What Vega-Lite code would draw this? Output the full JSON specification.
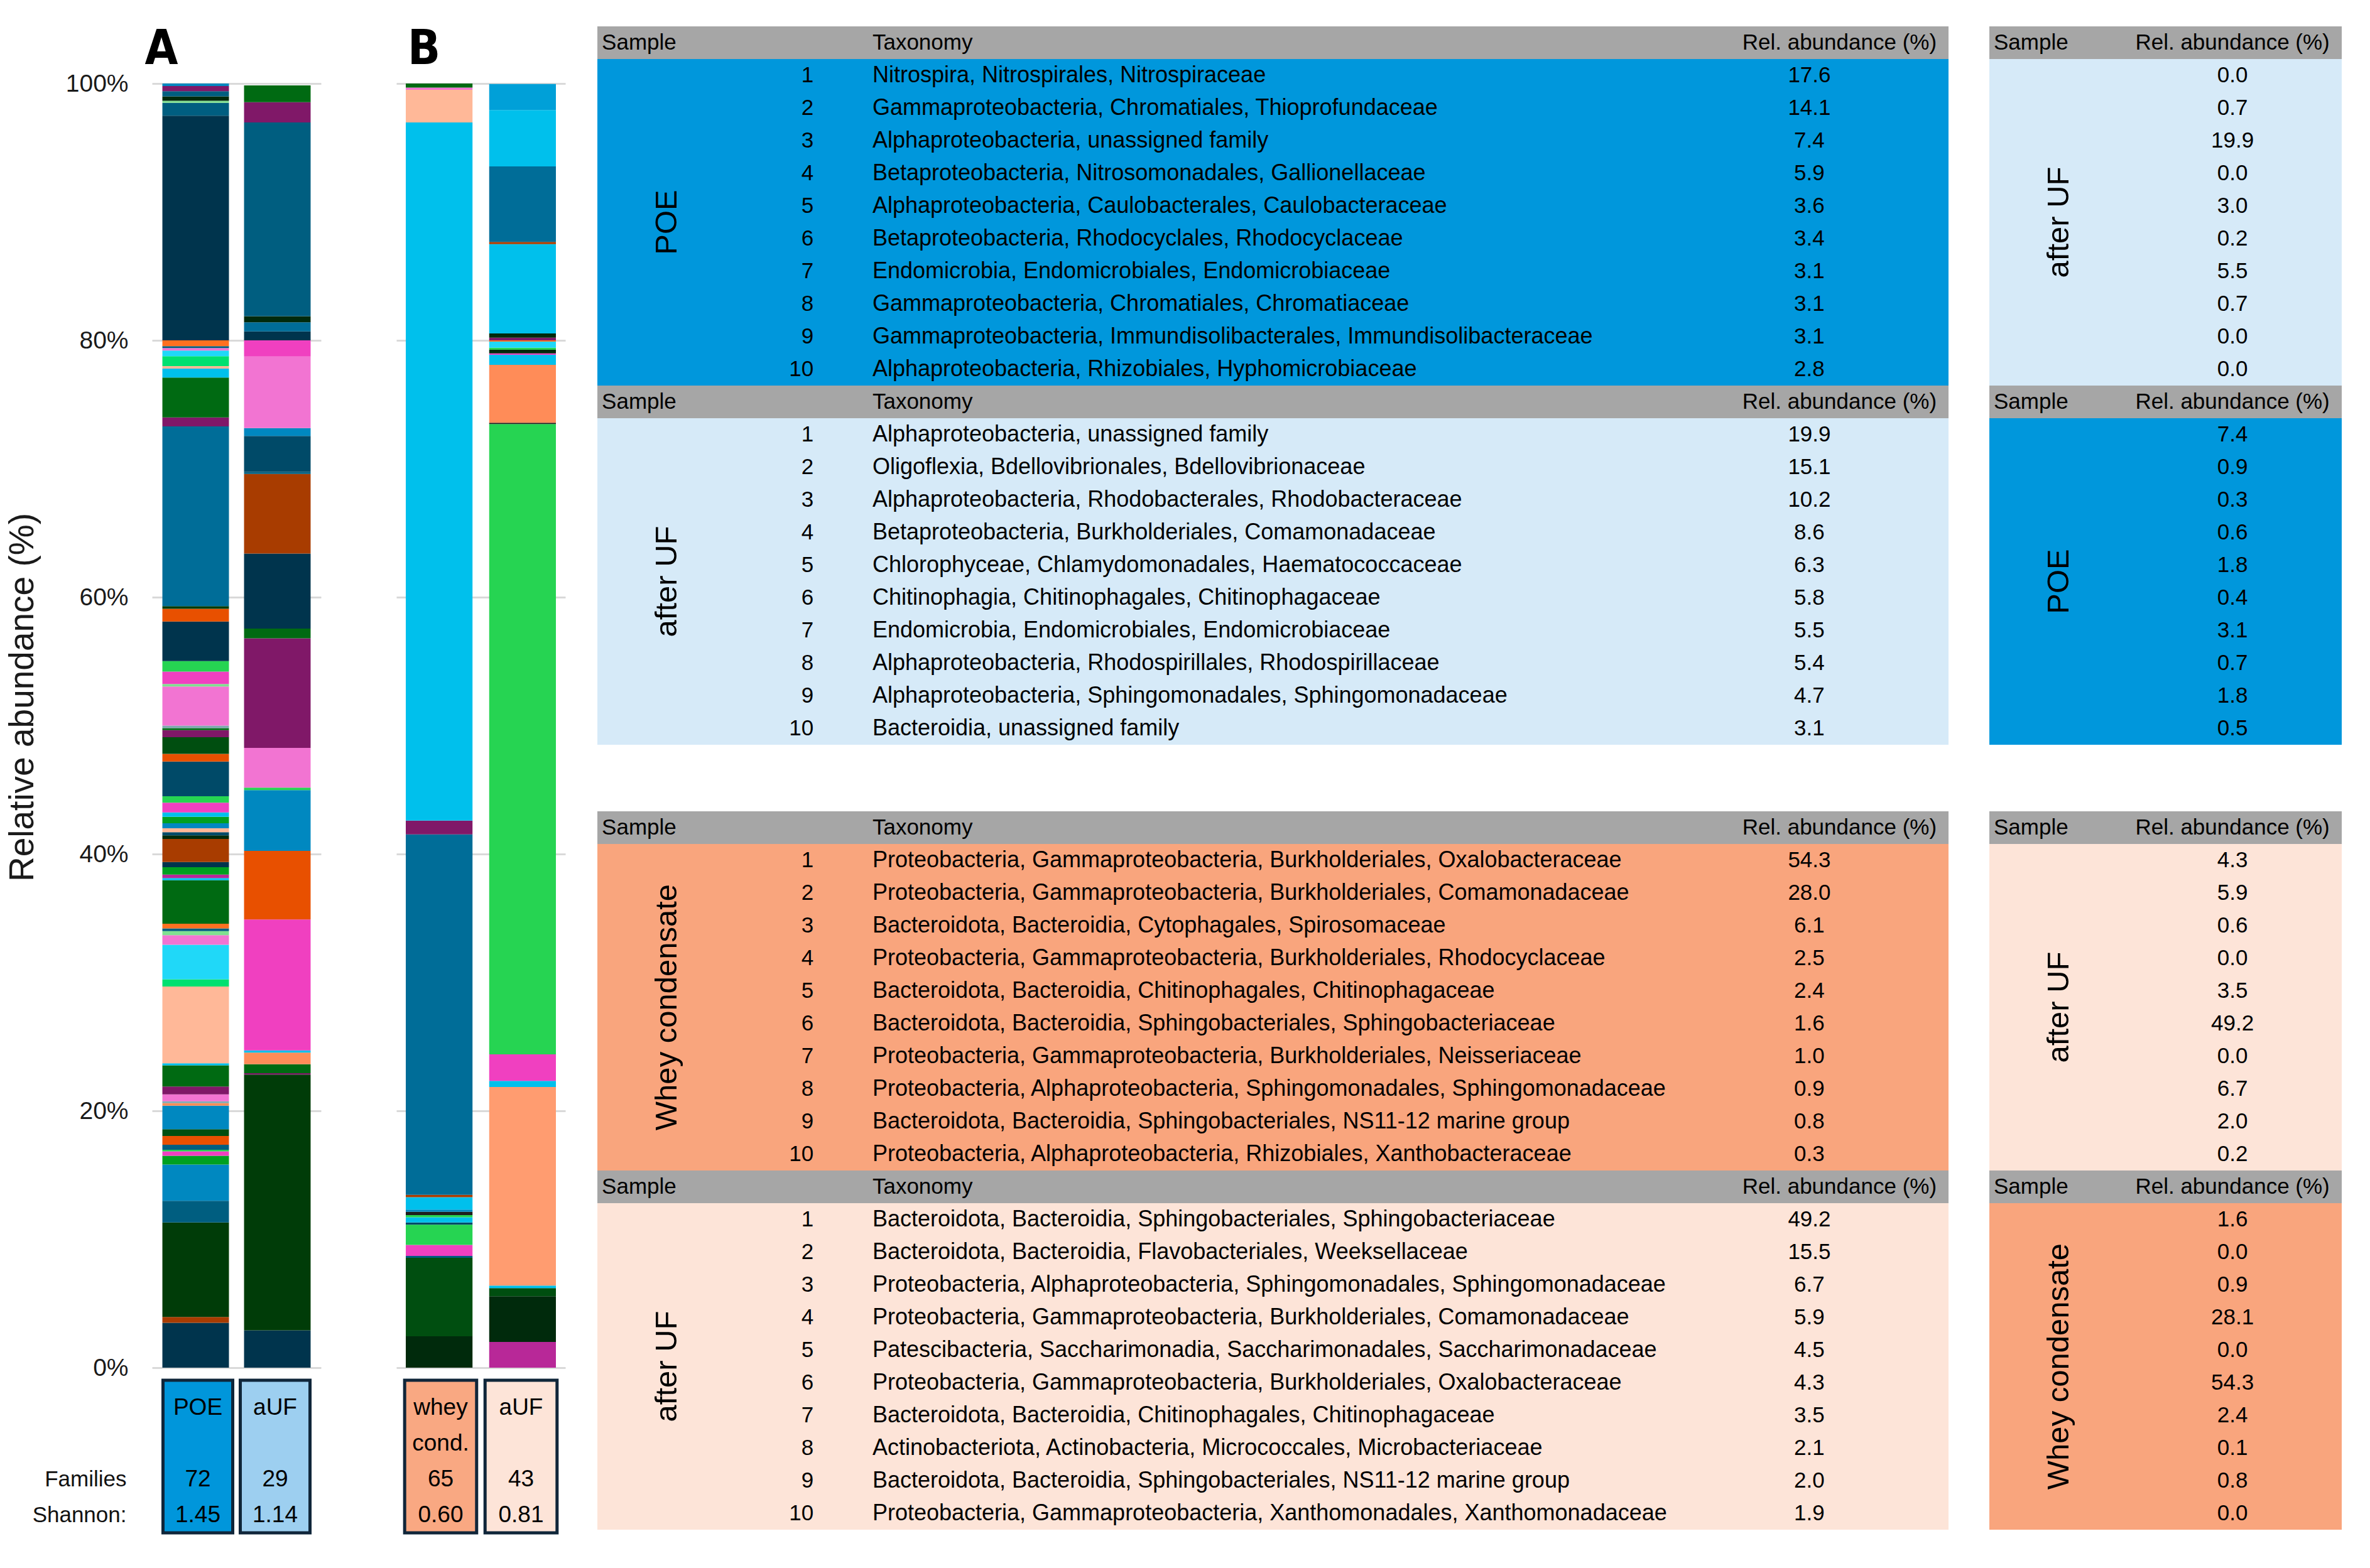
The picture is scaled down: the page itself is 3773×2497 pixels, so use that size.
{
"$schema": "https://vega.github.io/schema/vega-lite/v6.json",
"background": "white",
"padding": {"left": 8, "top": 41, "right": 5, "bottom": 5},
"config": {"font": "Liberation Sans", "view": {"stroke": null}, "axisX": {"disable": true}},
"datasets": {
"segs": [
{"panel":"A","sample":"POE","ord":1,"grp":"g01","pct":3.5},
{"panel":"A","sample":"POE","ord":2,"grp":"g02","pct":0.45},
{"panel":"A","sample":"POE","ord":3,"grp":"g03","pct":7.36},
{"panel":"A","sample":"POE","ord":4,"grp":"g07","pct":1.68},
{"panel":"A","sample":"POE","ord":5,"grp":"g09","pct":2.83},
{"panel":"A","sample":"POE","ord":6,"grp":"g11","pct":0.68},
{"panel":"A","sample":"POE","ord":7,"grp":"g15","pct":0.35},
{"panel":"A","sample":"POE","ord":8,"grp":"g12","pct":0.12},
{"panel":"A","sample":"POE","ord":9,"grp":"g07","pct":0.39},
{"panel":"A","sample":"POE","ord":10,"grp":"g18","pct":0.69},
{"panel":"A","sample":"POE","ord":11,"grp":"g05","pct":0.52},
{"panel":"A","sample":"POE","ord":12,"grp":"g09","pct":1.83},
{"panel":"A","sample":"POE","ord":13,"grp":"g28","pct":0.2},
{"panel":"A","sample":"POE","ord":14,"grp":"g27","pct":0.14},
{"panel":"A","sample":"POE","ord":15,"grp":"g16","pct":0.54},
{"panel":"A","sample":"POE","ord":16,"grp":"g17","pct":0.62},
{"panel":"A","sample":"POE","ord":17,"grp":"g04","pct":1.64},
{"panel":"A","sample":"POE","ord":18,"grp":"g22","pct":0.17},
{"panel":"A","sample":"POE","ord":19,"grp":"g21","pct":5.97},
{"panel":"A","sample":"POE","ord":20,"grp":"g13","pct":0.57},
{"panel":"A","sample":"POE","ord":21,"grp":"g23","pct":2.69},
{"panel":"A","sample":"POE","ord":22,"grp":"g16","pct":0.74},
{"panel":"A","sample":"POE","ord":23,"grp":"g14","pct":0.32},
{"panel":"A","sample":"POE","ord":24,"grp":"g07","pct":0.2},
{"panel":"A","sample":"POE","ord":25,"grp":"g19","pct":0.37},
{"panel":"A","sample":"POE","ord":26,"grp":"g04","pct":3.39},
{"panel":"A","sample":"POE","ord":27,"grp":"g22","pct":0.17},
{"panel":"A","sample":"POE","ord":28,"grp":"g25","pct":0.27},
{"panel":"A","sample":"POE","ord":29,"grp":"g11","pct":0.57},
{"panel":"A","sample":"POE","ord":30,"grp":"g01","pct":0.41},
{"panel":"A","sample":"POE","ord":31,"grp":"g02","pct":1.79},
{"panel":"A","sample":"POE","ord":32,"grp":"g06","pct":0.28},
{"panel":"A","sample":"POE","ord":33,"grp":"g24","pct":0.25},
{"panel":"A","sample":"POE","ord":34,"grp":"g21","pct":0.3},
{"panel":"A","sample":"POE","ord":35,"grp":"g09","pct":0.4},
{"panel":"A","sample":"POE","ord":36,"grp":"g11","pct":0.5},
{"panel":"A","sample":"POE","ord":37,"grp":"g22","pct":0.34},
{"panel":"A","sample":"POE","ord":38,"grp":"g15","pct":0.76},
{"panel":"A","sample":"POE","ord":39,"grp":"g12","pct":0.5},
{"panel":"A","sample":"POE","ord":40,"grp":"g24","pct":2.7},
{"panel":"A","sample":"POE","ord":41,"grp":"g18","pct":0.6},
{"panel":"A","sample":"POE","ord":42,"grp":"g05","pct":1.3},
{"panel":"A","sample":"POE","ord":43,"grp":"g17","pct":0.55},
{"panel":"A","sample":"POE","ord":44,"grp":"g04","pct":0.15},
{"panel":"A","sample":"POE","ord":45,"grp":"g27","pct":0.2},
{"panel":"A","sample":"POE","ord":46,"grp":"g16","pct":3.04},
{"panel":"A","sample":"POE","ord":47,"grp":"g14","pct":0.2},
{"panel":"A","sample":"POE","ord":48,"grp":"g15","pct":0.96},
{"panel":"A","sample":"POE","ord":49,"grp":"g12","pct":0.83},
{"panel":"A","sample":"POE","ord":50,"grp":"g01","pct":3.07},
{"panel":"A","sample":"POE","ord":51,"grp":"g18","pct":1.0},
{"panel":"A","sample":"POE","ord":52,"grp":"g03","pct":0.2},
{"panel":"A","sample":"POE","ord":53,"grp":"g08","pct":14.0},
{"panel":"A","sample":"POE","ord":54,"grp":"g17","pct":0.7},
{"panel":"A","sample":"POE","ord":55,"grp":"g04","pct":3.1},
{"panel":"A","sample":"POE","ord":56,"grp":"g22","pct":0.7},
{"panel":"A","sample":"POE","ord":57,"grp":"g21","pct":0.2},
{"panel":"A","sample":"POE","ord":58,"grp":"g13","pct":0.76},
{"panel":"A","sample":"POE","ord":59,"grp":"g23","pct":0.44},
{"panel":"A","sample":"POE","ord":60,"grp":"g16","pct":0.2},
{"panel":"A","sample":"POE","ord":61,"grp":"g07","pct":0.15},
{"panel":"A","sample":"POE","ord":62,"grp":"g19","pct":0.45},
{"panel":"A","sample":"POE","ord":63,"grp":"g01","pct":17.5},
{"panel":"A","sample":"POE","ord":64,"grp":"g07","pct":1.0},
{"panel":"A","sample":"POE","ord":65,"grp":"g14","pct":0.16},
{"panel":"A","sample":"POE","ord":66,"grp":"g06","pct":0.34},
{"panel":"A","sample":"POE","ord":67,"grp":"g07","pct":0.4},
{"panel":"A","sample":"POE","ord":68,"grp":"g17","pct":0.4},
{"panel":"A","sample":"POE","ord":69,"grp":"g09","pct":0.2},
{"panel":"A","sample":"aUF","ord":1,"grp":"g01","pct":2.91},
{"panel":"A","sample":"aUF","ord":2,"grp":"g03","pct":19.91},
{"panel":"A","sample":"aUF","ord":3,"grp":"g17","pct":0.12},
{"panel":"A","sample":"aUF","ord":4,"grp":"g04","pct":0.69},
{"panel":"A","sample":"aUF","ord":5,"grp":"g28","pct":0.9},
{"panel":"A","sample":"aUF","ord":6,"grp":"g22","pct":0.18},
{"panel":"A","sample":"aUF","ord":7,"grp":"g15","pct":10.19},
{"panel":"A","sample":"aUF","ord":8,"grp":"g18","pct":5.34},
{"panel":"A","sample":"aUF","ord":9,"grp":"g09","pct":4.73},
{"panel":"A","sample":"aUF","ord":10,"grp":"g12","pct":0.2},
{"panel":"A","sample":"aUF","ord":11,"grp":"g16","pct":3.09},
{"panel":"A","sample":"aUF","ord":12,"grp":"g17","pct":8.54},
{"panel":"A","sample":"aUF","ord":13,"grp":"g04","pct":0.75},
{"panel":"A","sample":"aUF","ord":14,"grp":"g01","pct":5.85},
{"panel":"A","sample":"aUF","ord":15,"grp":"g02","pct":6.2},
{"panel":"A","sample":"aUF","ord":16,"grp":"g07","pct":0.15},
{"panel":"A","sample":"aUF","ord":17,"grp":"g24","pct":2.8},
{"panel":"A","sample":"aUF","ord":18,"grp":"g09","pct":0.62},
{"panel":"A","sample":"aUF","ord":19,"grp":"g16","pct":5.57},
{"panel":"A","sample":"aUF","ord":20,"grp":"g15","pct":1.26},
{"panel":"A","sample":"aUF","ord":21,"grp":"g01","pct":0.7},
{"panel":"A","sample":"aUF","ord":22,"grp":"g08","pct":0.7},
{"panel":"A","sample":"aUF","ord":23,"grp":"g06","pct":0.48},
{"panel":"A","sample":"aUF","ord":24,"grp":"g07","pct":15.09},
{"panel":"A","sample":"aUF","ord":25,"grp":"g17","pct":1.58},
{"panel":"A","sample":"aUF","ord":26,"grp":"g04","pct":1.3},
{"panel":"B","sample":"whey cond.","ord":1,"grp":"g06","pct":2.44},
{"panel":"B","sample":"whey cond.","ord":2,"grp":"g05","pct":6.12},
{"panel":"B","sample":"whey cond.","ord":3,"grp":"g07","pct":0.14},
{"panel":"B","sample":"whey cond.","ord":4,"grp":"g15","pct":0.86},
{"panel":"B","sample":"whey cond.","ord":5,"grp":"g12","pct":1.58},
{"panel":"B","sample":"whey cond.","ord":6,"grp":"g24","pct":0.17},
{"panel":"B","sample":"whey cond.","ord":7,"grp":"g22","pct":0.4},
{"panel":"B","sample":"whey cond.","ord":8,"grp":"g12","pct":0.17},
{"panel":"B","sample":"whey cond.","ord":9,"grp":"g26","pct":0.26},
{"panel":"B","sample":"whey cond.","ord":10,"grp":"g09","pct":0.17},
{"panel":"B","sample":"whey cond.","ord":11,"grp":"g22","pct":0.97},
{"panel":"B","sample":"whey cond.","ord":12,"grp":"g02","pct":0.18},
{"panel":"B","sample":"whey cond.","ord":13,"grp":"g08","pct":28.07},
{"panel":"B","sample":"whey cond.","ord":14,"grp":"g17","pct":1.07},
{"panel":"B","sample":"whey cond.","ord":15,"grp":"g22","pct":54.37},
{"panel":"B","sample":"whey cond.","ord":16,"grp":"g21","pct":2.54},
{"panel":"B","sample":"whey cond.","ord":17,"grp":"g16","pct":0.17},
{"panel":"B","sample":"whey cond.","ord":18,"grp":"g04","pct":0.32},
{"panel":"B","sample":"aUF","ord":1,"grp":"g25","pct":2.0},
{"panel":"B","sample":"aUF","ord":2,"grp":"g06","pct":3.56},
{"panel":"B","sample":"aUF","ord":3,"grp":"g05","pct":0.64},
{"panel":"B","sample":"aUF","ord":4,"grp":"g22","pct":0.19},
{"panel":"B","sample":"aUF","ord":5,"grp":"g20","pct":15.47},
{"panel":"B","sample":"aUF","ord":6,"grp":"g22","pct":0.48},
{"panel":"B","sample":"aUF","ord":7,"grp":"g15","pct":2.06},
{"panel":"B","sample":"aUF","ord":8,"grp":"g12","pct":49.08},
{"panel":"B","sample":"aUF","ord":9,"grp":"g26","pct":0.1},
{"panel":"B","sample":"aUF","ord":10,"grp":"g28","pct":4.51},
{"panel":"B","sample":"aUF","ord":11,"grp":"g22","pct":0.78},
{"panel":"B","sample":"aUF","ord":12,"grp":"g15","pct":0.12},
{"panel":"B","sample":"aUF","ord":13,"grp":"g06","pct":0.28},
{"panel":"B","sample":"aUF","ord":14,"grp":"g12","pct":0.16},
{"panel":"B","sample":"aUF","ord":15,"grp":"g23","pct":0.47},
{"panel":"B","sample":"aUF","ord":16,"grp":"g19","pct":0.1},
{"panel":"B","sample":"aUF","ord":17,"grp":"g17","pct":0.21},
{"panel":"B","sample":"aUF","ord":18,"grp":"g06","pct":0.33},
{"panel":"B","sample":"aUF","ord":19,"grp":"g22","pct":6.96},
{"panel":"B","sample":"aUF","ord":20,"grp":"g02","pct":0.16},
{"panel":"B","sample":"aUF","ord":21,"grp":"g08","pct":5.88},
{"panel":"B","sample":"aUF","ord":22,"grp":"g22","pct":4.39},
{"panel":"B","sample":"aUF","ord":23,"grp":"g10","pct":2.03}
],
"boxes": [
{"panel":"A","sample":"POE","key":"POE","l1":"POE","l2":"","fam":"72","sha":"1.45"},
{"panel":"A","sample":"aUF","key":"UF1","l1":"aUF","l2":"","fam":"29","sha":"1.14"},
{"panel":"B","sample":"whey cond.","key":"WC","l1":"whey","l2":"cond.","fam":"65","sha":"0.60"},
{"panel":"B","sample":"aUF","key":"UF2","l1":"aUF","l2":"","fam":"43","sha":"0.81"}
],
"panels": [{"panel":"A"},{"panel":"B"}],
"hdrMain": [{"c1":"Sample","c2":"Taxonomy","c3":"Rel. abundance (%)"}],
"hdrSide": [{"c1":"Sample","c3":"Rel. abundance (%)"}],
"tab": [
{"block":"POE","label":"POE","vsBlock":"UF1","vsLabel":"after UF","rank":1,"taxonomy":"Nitrospira, Nitrospirales, Nitrospiraceae","abund":17.6,"vsAbund":0.0},
{"block":"POE","label":"POE","vsBlock":"UF1","vsLabel":"after UF","rank":2,"taxonomy":"Gammaproteobacteria, Chromatiales, Thioprofundaceae","abund":14.1,"vsAbund":0.7},
{"block":"POE","label":"POE","vsBlock":"UF1","vsLabel":"after UF","rank":3,"taxonomy":"Alphaproteobacteria, unassigned family","abund":7.4,"vsAbund":19.9},
{"block":"POE","label":"POE","vsBlock":"UF1","vsLabel":"after UF","rank":4,"taxonomy":"Betaproteobacteria, Nitrosomonadales, Gallionellaceae","abund":5.9,"vsAbund":0.0},
{"block":"POE","label":"POE","vsBlock":"UF1","vsLabel":"after UF","rank":5,"taxonomy":"Alphaproteobacteria, Caulobacterales, Caulobacteraceae","abund":3.6,"vsAbund":3.0},
{"block":"POE","label":"POE","vsBlock":"UF1","vsLabel":"after UF","rank":6,"taxonomy":"Betaproteobacteria, Rhodocyclales, Rhodocyclaceae","abund":3.4,"vsAbund":0.2},
{"block":"POE","label":"POE","vsBlock":"UF1","vsLabel":"after UF","rank":7,"taxonomy":"Endomicrobia, Endomicrobiales, Endomicrobiaceae","abund":3.1,"vsAbund":5.5},
{"block":"POE","label":"POE","vsBlock":"UF1","vsLabel":"after UF","rank":8,"taxonomy":"Gammaproteobacteria, Chromatiales, Chromatiaceae","abund":3.1,"vsAbund":0.7},
{"block":"POE","label":"POE","vsBlock":"UF1","vsLabel":"after UF","rank":9,"taxonomy":"Gammaproteobacteria, Immundisolibacterales, Immundisolibacteraceae","abund":3.1,"vsAbund":0.0},
{"block":"POE","label":"POE","vsBlock":"UF1","vsLabel":"after UF","rank":10,"taxonomy":"Alphaproteobacteria, Rhizobiales, Hyphomicrobiaceae","abund":2.8,"vsAbund":0.0},
{"block":"UF1","label":"after UF","vsBlock":"POE","vsLabel":"POE","rank":1,"taxonomy":"Alphaproteobacteria, unassigned family","abund":19.9,"vsAbund":7.4},
{"block":"UF1","label":"after UF","vsBlock":"POE","vsLabel":"POE","rank":2,"taxonomy":"Oligoflexia, Bdellovibrionales, Bdellovibrionaceae","abund":15.1,"vsAbund":0.9},
{"block":"UF1","label":"after UF","vsBlock":"POE","vsLabel":"POE","rank":3,"taxonomy":"Alphaproteobacteria, Rhodobacterales, Rhodobacteraceae","abund":10.2,"vsAbund":0.3},
{"block":"UF1","label":"after UF","vsBlock":"POE","vsLabel":"POE","rank":4,"taxonomy":"Betaproteobacteria, Burkholderiales, Comamonadaceae","abund":8.6,"vsAbund":0.6},
{"block":"UF1","label":"after UF","vsBlock":"POE","vsLabel":"POE","rank":5,"taxonomy":"Chlorophyceae, Chlamydomonadales, Haematococcaceae","abund":6.3,"vsAbund":1.8},
{"block":"UF1","label":"after UF","vsBlock":"POE","vsLabel":"POE","rank":6,"taxonomy":"Chitinophagia, Chitinophagales, Chitinophagaceae","abund":5.8,"vsAbund":0.4},
{"block":"UF1","label":"after UF","vsBlock":"POE","vsLabel":"POE","rank":7,"taxonomy":"Endomicrobia, Endomicrobiales, Endomicrobiaceae","abund":5.5,"vsAbund":3.1},
{"block":"UF1","label":"after UF","vsBlock":"POE","vsLabel":"POE","rank":8,"taxonomy":"Alphaproteobacteria, Rhodospirillales, Rhodospirillaceae","abund":5.4,"vsAbund":0.7},
{"block":"UF1","label":"after UF","vsBlock":"POE","vsLabel":"POE","rank":9,"taxonomy":"Alphaproteobacteria, Sphingomonadales, Sphingomonadaceae","abund":4.7,"vsAbund":1.8},
{"block":"UF1","label":"after UF","vsBlock":"POE","vsLabel":"POE","rank":10,"taxonomy":"Bacteroidia, unassigned family","abund":3.1,"vsAbund":0.5},
{"block":"WC","label":"Whey condensate","vsBlock":"UF2","vsLabel":"after UF","rank":1,"taxonomy":"Proteobacteria, Gammaproteobacteria, Burkholderiales, Oxalobacteraceae","abund":54.3,"vsAbund":4.3},
{"block":"WC","label":"Whey condensate","vsBlock":"UF2","vsLabel":"after UF","rank":2,"taxonomy":"Proteobacteria, Gammaproteobacteria, Burkholderiales, Comamonadaceae","abund":28.0,"vsAbund":5.9},
{"block":"WC","label":"Whey condensate","vsBlock":"UF2","vsLabel":"after UF","rank":3,"taxonomy":"Bacteroidota, Bacteroidia, Cytophagales, Spirosomaceae","abund":6.1,"vsAbund":0.6},
{"block":"WC","label":"Whey condensate","vsBlock":"UF2","vsLabel":"after UF","rank":4,"taxonomy":"Proteobacteria, Gammaproteobacteria, Burkholderiales, Rhodocyclaceae","abund":2.5,"vsAbund":0.0},
{"block":"WC","label":"Whey condensate","vsBlock":"UF2","vsLabel":"after UF","rank":5,"taxonomy":"Bacteroidota, Bacteroidia, Chitinophagales, Chitinophagaceae","abund":2.4,"vsAbund":3.5},
{"block":"WC","label":"Whey condensate","vsBlock":"UF2","vsLabel":"after UF","rank":6,"taxonomy":"Bacteroidota, Bacteroidia, Sphingobacteriales, Sphingobacteriaceae","abund":1.6,"vsAbund":49.2},
{"block":"WC","label":"Whey condensate","vsBlock":"UF2","vsLabel":"after UF","rank":7,"taxonomy":"Proteobacteria, Gammaproteobacteria, Burkholderiales, Neisseriaceae","abund":1.0,"vsAbund":0.0},
{"block":"WC","label":"Whey condensate","vsBlock":"UF2","vsLabel":"after UF","rank":8,"taxonomy":"Proteobacteria, Alphaproteobacteria, Sphingomonadales, Sphingomonadaceae","abund":0.9,"vsAbund":6.7},
{"block":"WC","label":"Whey condensate","vsBlock":"UF2","vsLabel":"after UF","rank":9,"taxonomy":"Bacteroidota, Bacteroidia, Sphingobacteriales, NS11-12 marine group","abund":0.8,"vsAbund":2.0},
{"block":"WC","label":"Whey condensate","vsBlock":"UF2","vsLabel":"after UF","rank":10,"taxonomy":"Proteobacteria, Alphaproteobacteria, Rhizobiales, Xanthobacteraceae","abund":0.3,"vsAbund":0.2},
{"block":"UF2","label":"after UF","vsBlock":"WC","vsLabel":"Whey condensate","rank":1,"taxonomy":"Bacteroidota, Bacteroidia, Sphingobacteriales, Sphingobacteriaceae","abund":49.2,"vsAbund":1.6},
{"block":"UF2","label":"after UF","vsBlock":"WC","vsLabel":"Whey condensate","rank":2,"taxonomy":"Bacteroidota, Bacteroidia, Flavobacteriales, Weeksellaceae","abund":15.5,"vsAbund":0.0},
{"block":"UF2","label":"after UF","vsBlock":"WC","vsLabel":"Whey condensate","rank":3,"taxonomy":"Proteobacteria, Alphaproteobacteria, Sphingomonadales, Sphingomonadaceae","abund":6.7,"vsAbund":0.9},
{"block":"UF2","label":"after UF","vsBlock":"WC","vsLabel":"Whey condensate","rank":4,"taxonomy":"Proteobacteria, Gammaproteobacteria, Burkholderiales, Comamonadaceae","abund":5.9,"vsAbund":28.1},
{"block":"UF2","label":"after UF","vsBlock":"WC","vsLabel":"Whey condensate","rank":5,"taxonomy":"Patescibacteria, Saccharimonadia, Saccharimonadales, Saccharimonadaceae","abund":4.5,"vsAbund":0.0},
{"block":"UF2","label":"after UF","vsBlock":"WC","vsLabel":"Whey condensate","rank":6,"taxonomy":"Proteobacteria, Gammaproteobacteria, Burkholderiales, Oxalobacteraceae","abund":4.3,"vsAbund":54.3},
{"block":"UF2","label":"after UF","vsBlock":"WC","vsLabel":"Whey condensate","rank":7,"taxonomy":"Bacteroidota, Bacteroidia, Chitinophagales, Chitinophagaceae","abund":3.5,"vsAbund":2.4},
{"block":"UF2","label":"after UF","vsBlock":"WC","vsLabel":"Whey condensate","rank":8,"taxonomy":"Actinobacteriota, Actinobacteria, Micrococcales, Microbacteriaceae","abund":2.1,"vsAbund":0.1},
{"block":"UF2","label":"after UF","vsBlock":"WC","vsLabel":"Whey condensate","rank":9,"taxonomy":"Bacteroidota, Bacteroidia, Sphingobacteriales, NS11-12 marine group","abund":2.0,"vsAbund":0.8},
{"block":"UF2","label":"after UF","vsBlock":"WC","vsLabel":"Whey condensate","rank":10,"taxonomy":"Proteobacteria, Gammaproteobacteria, Xanthomonadales, Xanthomonadaceae","abund":1.9,"vsAbund":0.0}
]
},
"spacing": 51,
"resolve": {"scale": {"color": "independent"}},
"hconcat": [
{
"hconcat": [
{
"vconcat": [
{
"width": 269, "height": 2136,
"layer": [
{
"data": {"name": "segs"},
"transform": [{"filter": "datum.panel == 'A'"}],
"mark": {"type": "bar"},
"encoding": {
"x": {"field": "sample", "type": "nominal", "scale": {"domain": ["POE", "aUF"], "paddingInner": 0.185, "paddingOuter": 0.127}, "axis": null},
"y": {"field": "pct", "type": "quantitative", "stack": "zero", "scale": {"domain": [0, 104.45], "nice": false},
"axis": {"values": [0, 20, 40, 60, 80, 100], "labelExpr": "datum.value + '%'", "grid": true, "gridColor": "#D9D9D9", "gridWidth": 3, "domain": false, "ticks": false, "tickSize": 0, "labelFontSize": 39, "labelPadding": 38, "labelColor": "#1a1a1a", "title": "Relative abundance (%)", "titleFontSize": 55, "titleFontWeight": "normal", "titleColor": "#1a1a1a", "titlePadding": 40}},
"color": {"field": "grp", "type": "nominal", "legend": null, "scale": {
"domain": ["g01","g02","g03","g04","g05","g06","g07","g08","g09","g10","g11","g12","g13","g14","g15","g16","g17","g18","g19","g20","g21","g22","g23","g24","g25","g26","g27","g28"],
"range": ["#00344D","#A83C00","#003C08","#006A12","#004E10","#002A0C","#005E80","#006D98","#0088C0","#00A0D8","#00A020","#26D452","#00E070","#80E090","#F040C0","#F274D2","#801868","#E85000","#FF7020","#FF9C70","#FFB898","#00C0EC","#20D8F8","#004A68","#B82898","#1E1E1E","#80A8B0","#FF8C58"]}},
"order": {"field": "ord", "type": "quantitative", "sort": "ascending"}
}
},
{
"data": {"name": "panels"},
"transform": [{"filter": "datum.panel == 'A'"}],
"mark": {"type": "text", "fontSize": 76, "fontWeight": "bold", "align": "left", "baseline": "top", "dx": -28, "color": "#000", "font": "DejaVu Sans Condensed"},
"encoding": {
"x": {"datum": "POE", "type": "nominal", "bandPosition": 0, "scale": {"domain": ["POE", "aUF"]}},
"y": {"datum": 104.45, "type": "quantitative"},
"text": {"field": "panel"}
}
}
]
},
{
"width": 269, "height": 243,
"data": {"name": "boxes"},
"transform": [{"filter": "datum.panel == 'A'"}],
"layer": [
{
"mark": {"type": "rect", "stroke": "#10263A", "strokeWidth": 5},
"encoding": {
"x": {"field": "sample", "type": "nominal", "scale": {"domain": ["POE", "aUF"], "paddingInner": 0.0976, "paddingOuter": 0.142}, "axis": null},
"y": {"value": 0}, "y2": {"value": "height"},
"color": {"field": "key", "type": "nominal", "legend": null, "scale": {"domain": ["POE","UF1","WC","UF2"], "range": ["#0096DB","#9DCFF0","#F9A882","#FDE4D8"]}}
}
},
{
"transform": [{"fold": ["l1", "l2", "fam", "sha"], "as": ["line", "txt"]}],
"mark": {"type": "text", "fontSize": 37, "color": "#000", "baseline": "middle"},
"encoding": {
"x": {"field": "sample", "type": "nominal", "scale": {"domain": ["POE", "aUF"]}},
"y": {"field": "line", "type": "nominal", "scale": {"type": "point", "domain": ["l1", "l2", "fam", "sha"], "padding": 0.63, "align": 0.61},
"axis": {"labelExpr": "datum.value == 'fam' ? 'Families' : datum.value == 'sha' ? 'Shannon:' : ''", "domain": false, "ticks": false, "tickSize": 0, "grid": false, "labelFontSize": 35, "labelPadding": 41, "labelColor": "#111", "title": null}},
"text": {"field": "txt"}
}
}
]
}
],
"spacing": -5, "resolve": {"scale": {"color": "independent"}}
},
{
"vconcat": [
{
"width": 269, "height": 2136,
"layer": [
{
"data": {"name": "segs"},
"transform": [{"filter": "datum.panel == 'B'"}],
"mark": {"type": "bar"},
"encoding": {
"x": {"field": "sample", "type": "nominal", "scale": {"domain": ["whey cond.", "aUF"], "paddingInner": 0.2, "paddingOuter": 0.113}, "axis": null},
"y": {"field": "pct", "type": "quantitative", "stack": "zero", "scale": {"domain": [0, 104.45], "nice": false},
"axis": {"values": [0, 20, 40, 60, 80, 100], "labels": false, "grid": true, "gridColor": "#D9D9D9", "gridWidth": 3, "domain": false, "ticks": false, "tickSize": 0, "title": null}},
"color": {"field": "grp", "type": "nominal", "legend": null, "scale": {
"domain": ["g01","g02","g03","g04","g05","g06","g07","g08","g09","g10","g11","g12","g13","g14","g15","g16","g17","g18","g19","g20","g21","g22","g23","g24","g25","g26","g27","g28"],
"range": ["#00344D","#A83C00","#003C08","#006A12","#004E10","#002A0C","#005E80","#006D98","#0088C0","#00A0D8","#00A020","#26D452","#00E070","#80E090","#F040C0","#F274D2","#801868","#E85000","#FF7020","#FF9C70","#FFB898","#00C0EC","#20D8F8","#004A68","#B82898","#1E1E1E","#80A8B0","#FF8C58"]}},
"order": {"field": "ord", "type": "quantitative", "sort": "ascending"}
}
},
{
"data": {"name": "panels"},
"transform": [{"filter": "datum.panel == 'B'"}],
"mark": {"type": "text", "fontSize": 76, "fontWeight": "bold", "align": "left", "baseline": "top", "dx": 3, "color": "#000", "font": "DejaVu Sans Condensed"},
"encoding": {
"x": {"datum": "whey cond.", "type": "nominal", "bandPosition": 0, "scale": {"domain": ["whey cond.", "aUF"]}},
"y": {"datum": 104.45, "type": "quantitative"},
"text": {"field": "panel"}
}
}
]
},
{
"width": 269, "height": 243,
"data": {"name": "boxes"},
"transform": [{"filter": "datum.panel == 'B'"}],
"layer": [
{
"mark": {"type": "rect", "stroke": "#10263A", "strokeWidth": 5},
"encoding": {
"x": {"field": "sample", "type": "nominal", "scale": {"domain": ["whey cond.", "aUF"], "paddingInner": 0.105, "paddingOuter": 0.103}, "axis": null},
"y": {"value": 0}, "y2": {"value": "height"},
"color": {"field": "key", "type": "nominal", "legend": null, "scale": {"domain": ["POE","UF1","WC","UF2"], "range": ["#0096DB","#9DCFF0","#F9A882","#FDE4D8"]}}
}
},
{
"transform": [{"fold": ["l1", "l2", "fam", "sha"], "as": ["line", "txt"]}],
"mark": {"type": "text", "fontSize": 37, "color": "#000", "baseline": "middle"},
"encoding": {
"x": {"field": "sample", "type": "nominal", "scale": {"domain": ["whey cond.", "aUF"]}},
"y": {"field": "line", "type": "nominal", "scale": {"type": "point", "domain": ["l1", "l2", "fam", "sha"], "padding": 0.63, "align": 0.61}, "axis": null},
"text": {"field": "txt"}
}
}
]
}
],
"spacing": 17, "resolve": {"scale": {"color": "independent"}}
}
],
"spacing": 120, "resolve": {"scale": {"color": "independent"}}
},
{
"hconcat": [
{
"vconcat": [
{
"vconcat": [
{
"width": 2151, "height": 572,
"layer": [
{"data": {"name": "tab"}, "transform": [{"filter": "datum.block == 'POE'"}],
"encoding": {"y": {"field": "rank", "type": "ordinal", "scale": {"domain": [0,1,2,3,4,5,6,7,8,9,10], "paddingInner": 0, "paddingOuter": 0}, "axis": null}},
"layer": [
{"mark": {"type": "rect"}, "encoding": {"x": {"datum": 0, "type": "quantitative", "scale": {"domain": [0, 100], "nice": false}, "axis": null}, "x2": {"datum": 100}, "color": {"field": "block", "type": "nominal", "legend": null, "scale": {"domain": ["POE","UF1","WC","UF2"], "range": ["#0097DC","#D6EAF8","#F9A57D","#FDE4D8"]}}}},
{"mark": {"type": "text", "align": "right", "baseline": "middle", "fontSize": 35, "color": "#000"}, "encoding": {"x": {"datum": 16.0, "type": "quantitative"}, "text": {"field": "rank"}}},
{"mark": {"type": "text", "align": "left", "baseline": "middle", "fontSize": 36, "color": "#000"}, "encoding": {"x": {"datum": 20.36, "type": "quantitative"}, "text": {"field": "taxonomy"}}},
{"mark": {"type": "text", "align": "center", "baseline": "middle", "fontSize": 35, "color": "#000"}, "encoding": {"x": {"datum": 89.7, "type": "quantitative"}, "text": {"field": "abund", "type": "quantitative", "format": ".1f"}}},
{"transform": [{"filter": "datum.rank == 5"}], "mark": {"type": "text", "angle": 270, "align": "center", "baseline": "middle", "fontSize": 49, "color": "#000"}, "encoding": {"x": {"datum": 5.16, "type": "quantitative"}, "y": {"field": "rank", "type": "ordinal", "bandPosition": 1, "axis": null}, "text": {"field": "label"}}}
]},
{"data": {"name": "hdrMain"},
"encoding": {"y": {"datum": 0, "type": "ordinal", "axis": null}},
"layer": [
{"mark": {"type": "rect", "color": "#A6A6A6"}, "encoding": {"x": {"datum": 0, "type": "quantitative"}, "x2": {"datum": 100}}},
{"mark": {"type": "text", "align": "left", "baseline": "middle", "fontSize": 35, "color": "#000"}, "encoding": {"x": {"datum": 0.33, "type": "quantitative"}, "text": {"field": "c1"}}},
{"mark": {"type": "text", "align": "left", "baseline": "middle", "fontSize": 35, "color": "#000"}, "encoding": {"x": {"datum": 20.36, "type": "quantitative"}, "text": {"field": "c2"}}},
{"mark": {"type": "text", "align": "right", "baseline": "middle", "fontSize": 35, "color": "#000"}, "encoding": {"x": {"datum": 99.12, "type": "quantitative"}, "text": {"field": "c3"}}}
]}
]
},
{
"width": 2151, "height": 572,
"layer": [
{"data": {"name": "tab"}, "transform": [{"filter": "datum.block == 'UF1'"}],
"encoding": {"y": {"field": "rank", "type": "ordinal", "scale": {"domain": [0,1,2,3,4,5,6,7,8,9,10], "paddingInner": 0, "paddingOuter": 0}, "axis": null}},
"layer": [
{"mark": {"type": "rect"}, "encoding": {"x": {"datum": 0, "type": "quantitative", "scale": {"domain": [0, 100], "nice": false}, "axis": null}, "x2": {"datum": 100}, "color": {"field": "block", "type": "nominal", "legend": null, "scale": {"domain": ["POE","UF1","WC","UF2"], "range": ["#0097DC","#D6EAF8","#F9A57D","#FDE4D8"]}}}},
{"mark": {"type": "text", "align": "right", "baseline": "middle", "fontSize": 35, "color": "#000"}, "encoding": {"x": {"datum": 16.0, "type": "quantitative"}, "text": {"field": "rank"}}},
{"mark": {"type": "text", "align": "left", "baseline": "middle", "fontSize": 36, "color": "#000"}, "encoding": {"x": {"datum": 20.36, "type": "quantitative"}, "text": {"field": "taxonomy"}}},
{"mark": {"type": "text", "align": "center", "baseline": "middle", "fontSize": 35, "color": "#000"}, "encoding": {"x": {"datum": 89.7, "type": "quantitative"}, "text": {"field": "abund", "type": "quantitative", "format": ".1f"}}},
{"transform": [{"filter": "datum.rank == 5"}], "mark": {"type": "text", "angle": 270, "align": "center", "baseline": "middle", "fontSize": 49, "color": "#000"}, "encoding": {"x": {"datum": 5.16, "type": "quantitative"}, "y": {"field": "rank", "type": "ordinal", "bandPosition": 1, "axis": null}, "text": {"field": "label"}}}
]},
{"data": {"name": "hdrMain"},
"encoding": {"y": {"datum": 0, "type": "ordinal", "axis": null}},
"layer": [
{"mark": {"type": "rect", "color": "#A6A6A6"}, "encoding": {"x": {"datum": 0, "type": "quantitative"}, "x2": {"datum": 100}}},
{"mark": {"type": "text", "align": "left", "baseline": "middle", "fontSize": 35, "color": "#000"}, "encoding": {"x": {"datum": 0.33, "type": "quantitative"}, "text": {"field": "c1"}}},
{"mark": {"type": "text", "align": "left", "baseline": "middle", "fontSize": 35, "color": "#000"}, "encoding": {"x": {"datum": 20.36, "type": "quantitative"}, "text": {"field": "c2"}}},
{"mark": {"type": "text", "align": "right", "baseline": "middle", "fontSize": 35, "color": "#000"}, "encoding": {"x": {"datum": 99.12, "type": "quantitative"}, "text": {"field": "c3"}}}
]}
]
}
],
"spacing": 0, "resolve": {"scale": {"color": "independent"}}
},
{
"vconcat": [
{
"width": 2151, "height": 572,
"layer": [
{"data": {"name": "tab"}, "transform": [{"filter": "datum.block == 'WC'"}],
"encoding": {"y": {"field": "rank", "type": "ordinal", "scale": {"domain": [0,1,2,3,4,5,6,7,8,9,10], "paddingInner": 0, "paddingOuter": 0}, "axis": null}},
"layer": [
{"mark": {"type": "rect"}, "encoding": {"x": {"datum": 0, "type": "quantitative", "scale": {"domain": [0, 100], "nice": false}, "axis": null}, "x2": {"datum": 100}, "color": {"field": "block", "type": "nominal", "legend": null, "scale": {"domain": ["POE","UF1","WC","UF2"], "range": ["#0097DC","#D6EAF8","#F9A57D","#FDE4D8"]}}}},
{"mark": {"type": "text", "align": "right", "baseline": "middle", "fontSize": 35, "color": "#000"}, "encoding": {"x": {"datum": 16.0, "type": "quantitative"}, "text": {"field": "rank"}}},
{"mark": {"type": "text", "align": "left", "baseline": "middle", "fontSize": 36, "color": "#000"}, "encoding": {"x": {"datum": 20.36, "type": "quantitative"}, "text": {"field": "taxonomy"}}},
{"mark": {"type": "text", "align": "center", "baseline": "middle", "fontSize": 35, "color": "#000"}, "encoding": {"x": {"datum": 89.7, "type": "quantitative"}, "text": {"field": "abund", "type": "quantitative", "format": ".1f"}}},
{"transform": [{"filter": "datum.rank == 5"}], "mark": {"type": "text", "angle": 270, "align": "center", "baseline": "middle", "fontSize": 49, "color": "#000"}, "encoding": {"x": {"datum": 5.16, "type": "quantitative"}, "y": {"field": "rank", "type": "ordinal", "bandPosition": 1, "axis": null}, "text": {"field": "label"}}}
]},
{"data": {"name": "hdrMain"},
"encoding": {"y": {"datum": 0, "type": "ordinal", "axis": null}},
"layer": [
{"mark": {"type": "rect", "color": "#A6A6A6"}, "encoding": {"x": {"datum": 0, "type": "quantitative"}, "x2": {"datum": 100}}},
{"mark": {"type": "text", "align": "left", "baseline": "middle", "fontSize": 35, "color": "#000"}, "encoding": {"x": {"datum": 0.33, "type": "quantitative"}, "text": {"field": "c1"}}},
{"mark": {"type": "text", "align": "left", "baseline": "middle", "fontSize": 35, "color": "#000"}, "encoding": {"x": {"datum": 20.36, "type": "quantitative"}, "text": {"field": "c2"}}},
{"mark": {"type": "text", "align": "right", "baseline": "middle", "fontSize": 35, "color": "#000"}, "encoding": {"x": {"datum": 99.12, "type": "quantitative"}, "text": {"field": "c3"}}}
]}
]
},
{
"width": 2151, "height": 572,
"layer": [
{"data": {"name": "tab"}, "transform": [{"filter": "datum.block == 'UF2'"}],
"encoding": {"y": {"field": "rank", "type": "ordinal", "scale": {"domain": [0,1,2,3,4,5,6,7,8,9,10], "paddingInner": 0, "paddingOuter": 0}, "axis": null}},
"layer": [
{"mark": {"type": "rect"}, "encoding": {"x": {"datum": 0, "type": "quantitative", "scale": {"domain": [0, 100], "nice": false}, "axis": null}, "x2": {"datum": 100}, "color": {"field": "block", "type": "nominal", "legend": null, "scale": {"domain": ["POE","UF1","WC","UF2"], "range": ["#0097DC","#D6EAF8","#F9A57D","#FDE4D8"]}}}},
{"mark": {"type": "text", "align": "right", "baseline": "middle", "fontSize": 35, "color": "#000"}, "encoding": {"x": {"datum": 16.0, "type": "quantitative"}, "text": {"field": "rank"}}},
{"mark": {"type": "text", "align": "left", "baseline": "middle", "fontSize": 36, "color": "#000"}, "encoding": {"x": {"datum": 20.36, "type": "quantitative"}, "text": {"field": "taxonomy"}}},
{"mark": {"type": "text", "align": "center", "baseline": "middle", "fontSize": 35, "color": "#000"}, "encoding": {"x": {"datum": 89.7, "type": "quantitative"}, "text": {"field": "abund", "type": "quantitative", "format": ".1f"}}},
{"transform": [{"filter": "datum.rank == 5"}], "mark": {"type": "text", "angle": 270, "align": "center", "baseline": "middle", "fontSize": 49, "color": "#000"}, "encoding": {"x": {"datum": 5.16, "type": "quantitative"}, "y": {"field": "rank", "type": "ordinal", "bandPosition": 1, "axis": null}, "text": {"field": "label"}}}
]},
{"data": {"name": "hdrMain"},
"encoding": {"y": {"datum": 0, "type": "ordinal", "axis": null}},
"layer": [
{"mark": {"type": "rect", "color": "#A6A6A6"}, "encoding": {"x": {"datum": 0, "type": "quantitative"}, "x2": {"datum": 100}}},
{"mark": {"type": "text", "align": "left", "baseline": "middle", "fontSize": 35, "color": "#000"}, "encoding": {"x": {"datum": 0.33, "type": "quantitative"}, "text": {"field": "c1"}}},
{"mark": {"type": "text", "align": "left", "baseline": "middle", "fontSize": 35, "color": "#000"}, "encoding": {"x": {"datum": 20.36, "type": "quantitative"}, "text": {"field": "c2"}}},
{"mark": {"type": "text", "align": "right", "baseline": "middle", "fontSize": 35, "color": "#000"}, "encoding": {"x": {"datum": 99.12, "type": "quantitative"}, "text": {"field": "c3"}}}
]}
]
}
],
"spacing": 0, "resolve": {"scale": {"color": "independent"}}
}
],
"spacing": 106, "resolve": {"scale": {"color": "independent"}}
},
{
"vconcat": [
{
"vconcat": [
{
"width": 561, "height": 572,
"layer": [
{"data": {"name": "tab"}, "transform": [{"filter": "datum.block == 'POE'"}],
"encoding": {"y": {"field": "rank", "type": "ordinal", "scale": {"domain": [0,1,2,3,4,5,6,7,8,9,10], "paddingInner": 0, "paddingOuter": 0}, "axis": null}},
"layer": [
{"mark": {"type": "rect"}, "encoding": {"x": {"datum": 0, "type": "quantitative", "scale": {"domain": [0, 100], "nice": false}, "axis": null}, "x2": {"datum": 100}, "color": {"field": "vsBlock", "type": "nominal", "legend": null, "scale": {"domain": ["POE","UF1","WC","UF2"], "range": ["#0097DC","#D6EAF8","#F9A57D","#FDE4D8"]}}}},
{"mark": {"type": "text", "align": "center", "baseline": "middle", "fontSize": 35, "color": "#000"}, "encoding": {"x": {"datum": 69.0, "type": "quantitative"}, "text": {"field": "vsAbund", "type": "quantitative", "format": ".1f"}}},
{"transform": [{"filter": "datum.rank == 5"}], "mark": {"type": "text", "angle": 270, "align": "center", "baseline": "middle", "fontSize": 49, "color": "#000"}, "encoding": {"x": {"datum": 19.7, "type": "quantitative"}, "y": {"field": "rank", "type": "ordinal", "bandPosition": 1, "axis": null}, "text": {"field": "vsLabel"}}}
]},
{"data": {"name": "hdrSide"},
"encoding": {"y": {"datum": 0, "type": "ordinal", "axis": null}},
"layer": [
{"mark": {"type": "rect", "color": "#A6A6A6"}, "encoding": {"x": {"datum": 0, "type": "quantitative"}, "x2": {"datum": 100}}},
{"mark": {"type": "text", "align": "left", "baseline": "middle", "fontSize": 35, "color": "#000"}, "encoding": {"x": {"datum": 1.25, "type": "quantitative"}, "text": {"field": "c1"}}},
{"mark": {"type": "text", "align": "center", "baseline": "middle", "fontSize": 35, "color": "#000"}, "encoding": {"x": {"datum": 69.0, "type": "quantitative"}, "text": {"field": "c3"}}}
]}
]
},
{
"width": 561, "height": 572,
"layer": [
{"data": {"name": "tab"}, "transform": [{"filter": "datum.block == 'UF1'"}],
"encoding": {"y": {"field": "rank", "type": "ordinal", "scale": {"domain": [0,1,2,3,4,5,6,7,8,9,10], "paddingInner": 0, "paddingOuter": 0}, "axis": null}},
"layer": [
{"mark": {"type": "rect"}, "encoding": {"x": {"datum": 0, "type": "quantitative", "scale": {"domain": [0, 100], "nice": false}, "axis": null}, "x2": {"datum": 100}, "color": {"field": "vsBlock", "type": "nominal", "legend": null, "scale": {"domain": ["POE","UF1","WC","UF2"], "range": ["#0097DC","#D6EAF8","#F9A57D","#FDE4D8"]}}}},
{"mark": {"type": "text", "align": "center", "baseline": "middle", "fontSize": 35, "color": "#000"}, "encoding": {"x": {"datum": 69.0, "type": "quantitative"}, "text": {"field": "vsAbund", "type": "quantitative", "format": ".1f"}}},
{"transform": [{"filter": "datum.rank == 5"}], "mark": {"type": "text", "angle": 270, "align": "center", "baseline": "middle", "fontSize": 49, "color": "#000"}, "encoding": {"x": {"datum": 19.7, "type": "quantitative"}, "y": {"field": "rank", "type": "ordinal", "bandPosition": 1, "axis": null}, "text": {"field": "vsLabel"}}}
]},
{"data": {"name": "hdrSide"},
"encoding": {"y": {"datum": 0, "type": "ordinal", "axis": null}},
"layer": [
{"mark": {"type": "rect", "color": "#A6A6A6"}, "encoding": {"x": {"datum": 0, "type": "quantitative"}, "x2": {"datum": 100}}},
{"mark": {"type": "text", "align": "left", "baseline": "middle", "fontSize": 35, "color": "#000"}, "encoding": {"x": {"datum": 1.25, "type": "quantitative"}, "text": {"field": "c1"}}},
{"mark": {"type": "text", "align": "center", "baseline": "middle", "fontSize": 35, "color": "#000"}, "encoding": {"x": {"datum": 69.0, "type": "quantitative"}, "text": {"field": "c3"}}}
]}
]
}
],
"spacing": 0, "resolve": {"scale": {"color": "independent"}}
},
{
"vconcat": [
{
"width": 561, "height": 572,
"layer": [
{"data": {"name": "tab"}, "transform": [{"filter": "datum.block == 'WC'"}],
"encoding": {"y": {"field": "rank", "type": "ordinal", "scale": {"domain": [0,1,2,3,4,5,6,7,8,9,10], "paddingInner": 0, "paddingOuter": 0}, "axis": null}},
"layer": [
{"mark": {"type": "rect"}, "encoding": {"x": {"datum": 0, "type": "quantitative", "scale": {"domain": [0, 100], "nice": false}, "axis": null}, "x2": {"datum": 100}, "color": {"field": "vsBlock", "type": "nominal", "legend": null, "scale": {"domain": ["POE","UF1","WC","UF2"], "range": ["#0097DC","#D6EAF8","#F9A57D","#FDE4D8"]}}}},
{"mark": {"type": "text", "align": "center", "baseline": "middle", "fontSize": 35, "color": "#000"}, "encoding": {"x": {"datum": 69.0, "type": "quantitative"}, "text": {"field": "vsAbund", "type": "quantitative", "format": ".1f"}}},
{"transform": [{"filter": "datum.rank == 5"}], "mark": {"type": "text", "angle": 270, "align": "center", "baseline": "middle", "fontSize": 49, "color": "#000"}, "encoding": {"x": {"datum": 19.7, "type": "quantitative"}, "y": {"field": "rank", "type": "ordinal", "bandPosition": 1, "axis": null}, "text": {"field": "vsLabel"}}}
]},
{"data": {"name": "hdrSide"},
"encoding": {"y": {"datum": 0, "type": "ordinal", "axis": null}},
"layer": [
{"mark": {"type": "rect", "color": "#A6A6A6"}, "encoding": {"x": {"datum": 0, "type": "quantitative"}, "x2": {"datum": 100}}},
{"mark": {"type": "text", "align": "left", "baseline": "middle", "fontSize": 35, "color": "#000"}, "encoding": {"x": {"datum": 1.25, "type": "quantitative"}, "text": {"field": "c1"}}},
{"mark": {"type": "text", "align": "center", "baseline": "middle", "fontSize": 35, "color": "#000"}, "encoding": {"x": {"datum": 69.0, "type": "quantitative"}, "text": {"field": "c3"}}}
]}
]
},
{
"width": 561, "height": 572,
"layer": [
{"data": {"name": "tab"}, "transform": [{"filter": "datum.block == 'UF2'"}],
"encoding": {"y": {"field": "rank", "type": "ordinal", "scale": {"domain": [0,1,2,3,4,5,6,7,8,9,10], "paddingInner": 0, "paddingOuter": 0}, "axis": null}},
"layer": [
{"mark": {"type": "rect"}, "encoding": {"x": {"datum": 0, "type": "quantitative", "scale": {"domain": [0, 100], "nice": false}, "axis": null}, "x2": {"datum": 100}, "color": {"field": "vsBlock", "type": "nominal", "legend": null, "scale": {"domain": ["POE","UF1","WC","UF2"], "range": ["#0097DC","#D6EAF8","#F9A57D","#FDE4D8"]}}}},
{"mark": {"type": "text", "align": "center", "baseline": "middle", "fontSize": 35, "color": "#000"}, "encoding": {"x": {"datum": 69.0, "type": "quantitative"}, "text": {"field": "vsAbund", "type": "quantitative", "format": ".1f"}}},
{"transform": [{"filter": "datum.rank == 5"}], "mark": {"type": "text", "angle": 270, "align": "center", "baseline": "middle", "fontSize": 49, "color": "#000"}, "encoding": {"x": {"datum": 19.7, "type": "quantitative"}, "y": {"field": "rank", "type": "ordinal", "bandPosition": 1, "axis": null}, "text": {"field": "vsLabel"}}}
]},
{"data": {"name": "hdrSide"},
"encoding": {"y": {"datum": 0, "type": "ordinal", "axis": null}},
"layer": [
{"mark": {"type": "rect", "color": "#A6A6A6"}, "encoding": {"x": {"datum": 0, "type": "quantitative"}, "x2": {"datum": 100}}},
{"mark": {"type": "text", "align": "left", "baseline": "middle", "fontSize": 35, "color": "#000"}, "encoding": {"x": {"datum": 1.25, "type": "quantitative"}, "text": {"field": "c1"}}},
{"mark": {"type": "text", "align": "center", "baseline": "middle", "fontSize": 35, "color": "#000"}, "encoding": {"x": {"datum": 69.0, "type": "quantitative"}, "text": {"field": "c3"}}}
]}
]
}
],
"spacing": 0, "resolve": {"scale": {"color": "independent"}}
}
],
"spacing": 106, "resolve": {"scale": {"color": "independent"}}
}
],
"spacing": 65, "resolve": {"scale": {"color": "independent"}}
}
]
}
